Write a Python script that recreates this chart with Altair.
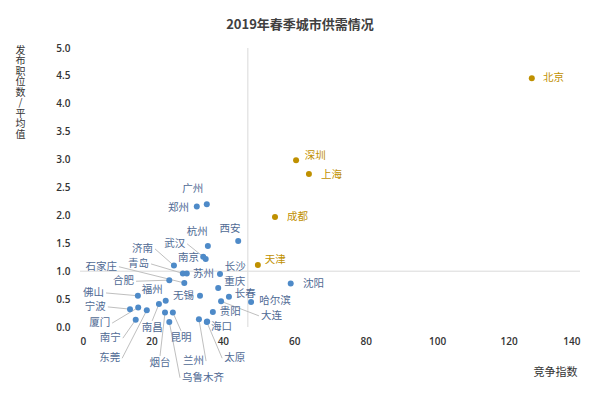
import altair as alt
import pandas as pd

cities = ["北京", "深圳", "上海", "成都", "天津",
          "沈阳", "哈尔滨", "广州", "郑州", "西安", "杭州", "武汉", "南京", "济南", "青岛",
          "石家庄", "苏州", "合肥", "长沙", "重庆", "长春", "大连", "贵阳", "海口", "兰州",
          "太原", "乌鲁木齐", "昆明", "烟台", "南昌", "南宁", "东莞", "厦门", "宁波", "佛山",
          "福州", "无锡"]
competition = [126.5, 60.5, 64.1, 54.6, 49.8,
               59.0, 47.9, 35.5, 32.7, 44.3, 35.8, 34.5, 35.2, 26.3, 28.8,
               29.2, 29.9, 25.0, 39.2, 38.7, 41.7, 39.5, 37.2, 35.6, 33.3,
               35.5, 25.0, 26.0, 23.8, 22.1, 15.6, 18.7, 16.3, 14.0, 16.2,
               24.0, 33.6]
jobs_ratio = [4.46, 2.99, 2.74, 1.97, 1.11,
              0.78, 0.45, 2.20, 2.16, 1.54, 1.45, 1.26, 1.22, 1.10, 0.96,
              0.79, 0.96, 0.84, 0.95, 0.70, 0.54, 0.46, 0.27, 0.10, 0.14,
              0.09, 0.09, 0.26, 0.26, 0.41, 0.13, 0.30, 0.35, 0.32, 0.56,
              0.47, 0.56]
group = ["高"] * 5 + ["低"] * 32

# label anchor positions (data units), alignment and whether a leader line is drawn
label_x = [129.1, 62.4, 66.9, 57.4, 51.2,
           61.9, 49.6, 31.6, 31.1, 42.0, 32.8, 30.0, 33.9, 21.0, 19.9,
           10.9, 31.1, 15.7, 40.0, 39.8, 42.8, 50.1, 38.6, 36.1, 35.3,
           39.8, 28.0, 28.3, 22.4, 20.2, 12.0, 11.8, 9.0, 7.8, 7.3,
           20.2, 32.5]
label_y = [4.46, 3.06, 2.72, 1.97, 1.20,
           0.77, 0.47, 2.47, 2.13, 1.76, 1.70, 1.49, 1.24, 1.40, 1.13,
           1.08, 0.95, 0.82, 1.07, 0.80, 0.60, 0.20, 0.27, 0.0, -0.61,
           -0.56, -0.91, -0.20, -0.65, -0.02, -0.20, -0.56, 0.07, 0.36, 0.61,
           0.66, 0.56]
label_align = ["left"] * 7 + ["center", "right", "center", "center", "right", "right", "right", "right",
               "right", "left", "right", "left", "left", "left", "left", "left", "left", "right",
               "left", "left", "center", "center", "center", "right", "right", "right", "right", "right",
               "center", "right"]
leader = [False] * 7 + [False, False, False, False, True, False, True, True,
                        True, False, True, False, False, False, True, False, False, True,
                        True, True, True, True, True, True, True, True, True, True,
                        False, False]

ref_x = 47
ref_y = 1.0
x_ticks = [0, 20, 40, 60, 80, 100, 120, 140]
y_ticks = [0.0, 0.5, 1.0, 1.5, 2.0, 2.5, 3.0, 3.5, 4.0, 4.5, 5.0]
chart_title = "2019年春季城市供需情况"

df = pd.DataFrame({
    "city": cities, "x": competition, "y": jobs_ratio, "group": group,
    "lx": label_x, "ly": label_y, "align": label_align, "leader": leader,
})
df["ex"] = df["lx"]
df["ey"] = df["ly"] + df["align"].map({"center": 0.13, "left": 0.0, "right": 0.0})

xs = alt.Scale(domain=[0, 140], nice=False, zero=False)
ys = alt.Scale(domain=[0, 5], nice=False, zero=False)
FONT = "Noto Sans CJK SC"

base = alt.Chart(df)

x_axis = alt.Axis(values=x_ticks, domain=False, ticks=False, grid=False,
                  labelFont="Open Sans", labelFontSize=10, labelFontWeight=600,
                  labelColor="#333333", labelPadding=9, labelOverlap=False,
                  title="竞争指数", titleFont=FONT, titleFontSize=11,
                  titleFontWeight="normal", titleColor="#333333",
                  titleX=475, titleY=45, titleAlign="center", titleBaseline="middle")
y_axis = alt.Axis(values=y_ticks, format=".1f", domain=False, ticks=False, grid=False,
                  labelFont="Open Sans", labelFontSize=10, labelFontWeight=600,
                  labelColor="#333333", labelPadding=10, labelOverlap=False,
                  title=list("发布职位数/平均值"), titleFont=FONT, titleFontSize=10,
                  titleFontWeight="normal", titleColor="#333333", titleAngle=0,
                  titleLineHeight=10.5, titleX=-60, titleY=-3,
                  titleAlign="center", titleBaseline="top")


def X(field):
    return alt.X(field, scale=xs, axis=x_axis)


def Y(field):
    return alt.Y(field, scale=ys, axis=y_axis)


vline = alt.Chart(pd.DataFrame({"x": [ref_x], "y": [0.0], "y2": [5.0]})).mark_rule(
    color="#d9d9d9", strokeWidth=1
).encode(x=X("x:Q"), y=Y("y:Q"), y2="y2:Q")

hline = alt.Chart(pd.DataFrame({"y": [ref_y], "x": [0.0], "x2": [140.0]})).mark_rule(
    color="#d9d9d9", strokeWidth=1
).encode(x=X("x:Q"), x2="x2:Q", y=Y("y:Q"))

leaders = base.transform_filter("datum.leader").mark_rule(
    color="#bfbfbf", strokeWidth=1
).encode(x=X("x:Q"), y=Y("y:Q"), x2="ex:Q", y2="ey:Q")

color_scale = alt.Scale(domain=["高", "低"], range=["#bf9000", "#4e8ac8"])

points = base.mark_circle(size=36, opacity=1).encode(
    x=X("x:Q"), y=Y("y:Q"),
    color=alt.Color("group:N", scale=color_scale, legend=None),
)

label_color = alt.Scale(domain=["高", "低"], range=["#bf9000", "#4f6a94"])


def labels(al, dx):
    return base.transform_filter(f"datum.align == '{al}'").mark_text(
        align=al, baseline="middle", dx=dx, font=FONT, fontSize=10.5
    ).encode(
        x=X("lx:Q"), y=Y("ly:Q"),
        text="city:N",
        color=alt.Color("group:N", scale=label_color, legend=None),
    )


title_mark = alt.Chart(pd.DataFrame({"t": [chart_title]})).mark_text(
    font=FONT, fontSize=13, fontWeight="bold", color="#404040",
    align="center", baseline="middle"
).encode(x=alt.value(220), y=alt.value(-23), text="t:N")

chart = alt.layer(
    vline, hline, leaders, points,
    labels("left", 2), labels("right", -2), labels("center", 0), title_mark,
).resolve_scale(color="independent").properties(
    width=500, height=279,
    padding={"left": 72, "top": 40, "right": 12, "bottom": 65},
    autosize=alt.AutoSizeParams(type="none"),
).configure_view(stroke=None)

chart.save("out.html", embed_options={"renderer": "svg", "actions": False})
